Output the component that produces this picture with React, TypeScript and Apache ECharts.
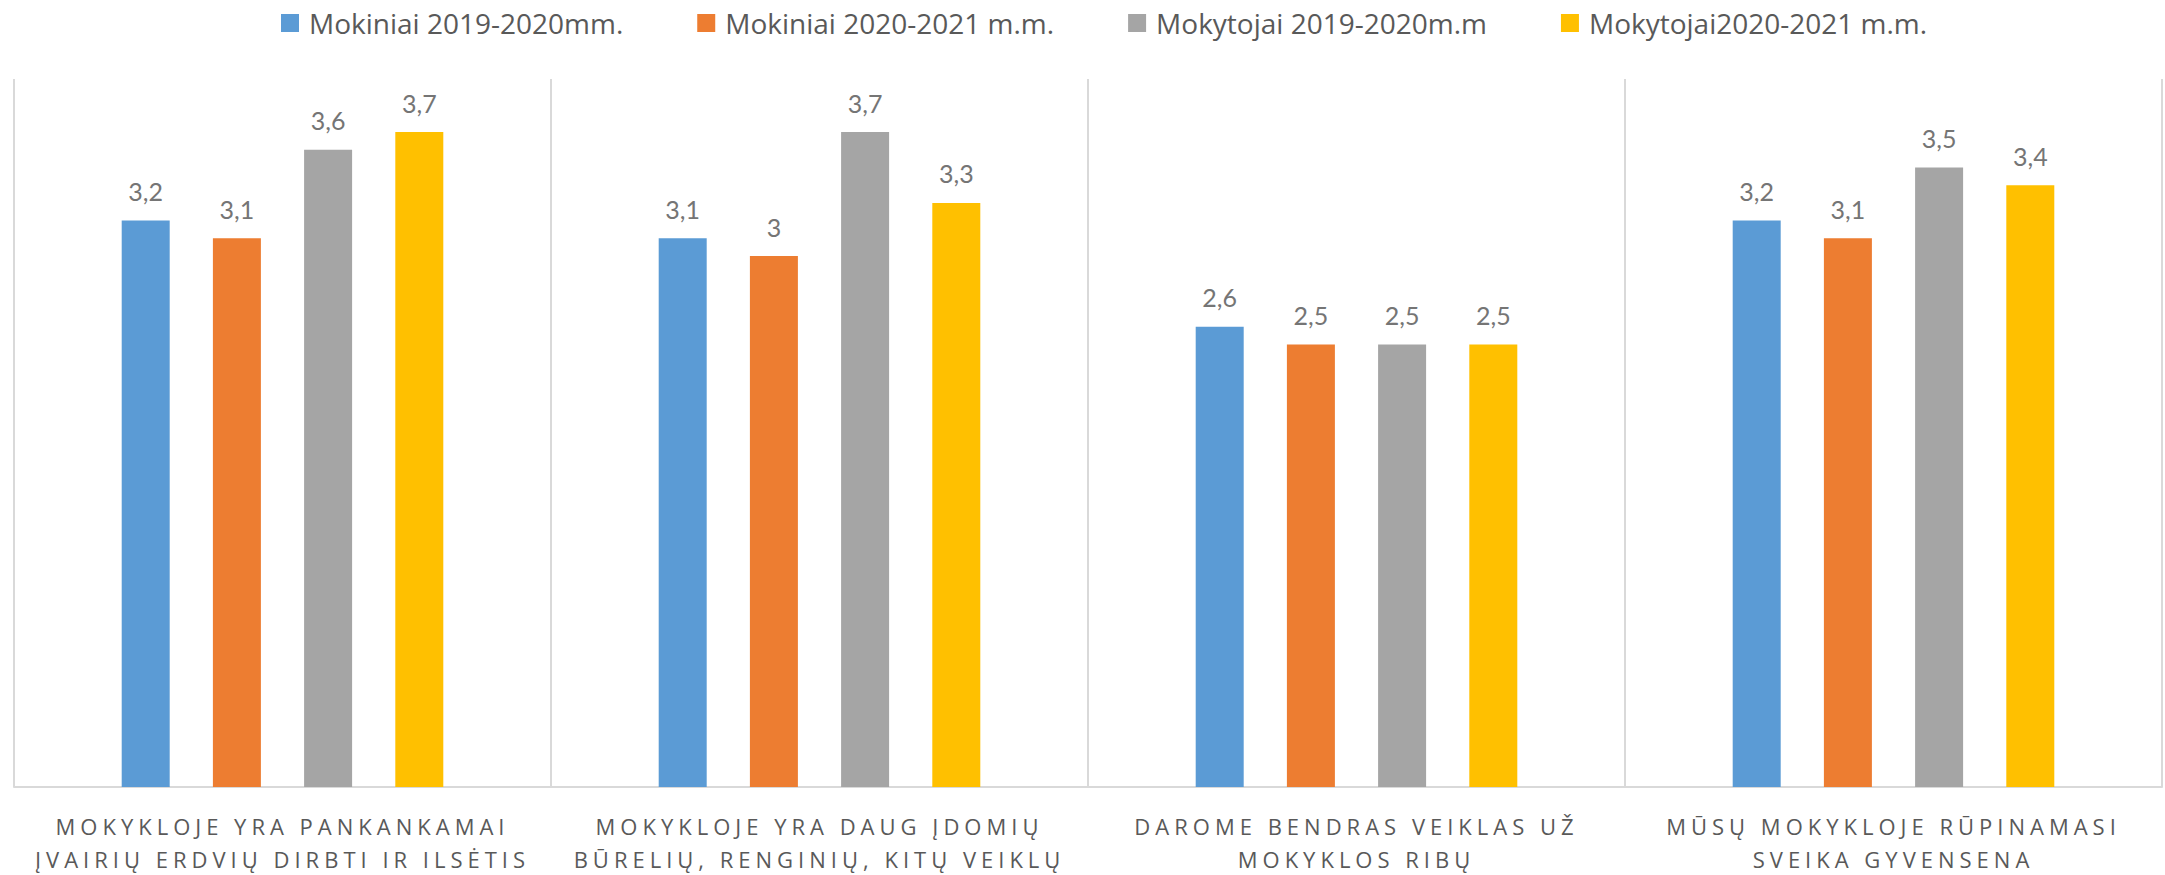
import React, { useEffect, useRef } from "react";
import * as echarts from "echarts";

const categories = [
  "MOKYKLOJE YRA PANKANKAMAI\nĮVAIRIŲ ERDVIŲ DIRBTI IR ILSĖTIS",
  "MOKYKLOJE YRA DAUG ĮDOMIŲ\nBŪRELIŲ, RENGINIŲ, KITŲ VEIKLŲ",
  "DAROME BENDRAS VEIKLAS UŽ\nMOKYKLOS RIBŲ",
  "MŪSŲ MOKYKLOJE RŪPINAMASI\nSVEIKA GYVENSENA",
];

const seriesNames = [
  "Mokiniai 2019-2020mm.",
  "Mokiniai 2020-2021 m.m.",
  "Mokytojai 2019-2020m.m",
  "Mokytojai2020-2021 m.m.",
];

const mokiniai1920 = [3.2, 3.1, 2.6, 3.2];
const mokiniai2021 = [3.1, 3.0, 2.5, 3.1];
const mokytojai1920 = [3.6, 3.7, 2.5, 3.5];
const mokytojai2021 = [3.7, 3.3, 2.5, 3.4];

const colors = ["#5b9bd5", "#ed7d31", "#a5a5a5", "#ffc000"];

export default function App() {
  const ref = useRef<HTMLDivElement>(null);
  useEffect(() => {
    document.body.style.margin = "0";
    if (!ref.current) return;
    const el = ref.current;
    const chart = echarts.init(el, undefined, { renderer: "svg" });
    const values = [mokiniai1920, mokiniai2021, mokytojai1920, mokytojai2021];
    const lineSet = new Set<string>();
    categories.forEach((c) => c.split("\n").forEach((l) => lineSet.add(l)));
    const spaceLabels = () => {
      el.querySelectorAll("text").forEach((t) => {
        const s = (t.textContent || "").trim();
        if (lineSet.has(s)) {
          (t as SVGTextElement).style.letterSpacing = "5px";
        }
      });
    };
    chart.on("finished", spaceLabels);
    chart.setOption({
      animation: false,
      color: colors,
      legend: {
        top: 4,
        left: 276,
        itemWidth: 18,
        itemHeight: 18,
        itemGap: 74,
        icon: "rect",
        textStyle: {
          fontFamily: "Open Sans",
          fontSize: 28,
          color: "#595959",
          padding: [0, 0, 0, 5],
        },
        data: seriesNames,
      },
      grid: { left: 14, right: 3, top: 79, bottom: 88, containLabel: false },
      xAxis: {
        type: "category",
        data: categories,
        axisLine: { lineStyle: { color: "#d9d9d9", width: 2 } },
        axisTick: { show: false },
        splitLine: { show: true, lineStyle: { color: "#d9d9d9", width: 2 } },
        axisLabel: {
          margin: 22,
          fontFamily: "Open Sans",
          fontSize: 22,
          lineHeight: 33,
          color: "#595959",
          interval: 0,
        },
      },
      yAxis: {
        type: "value",
        min: 0,
        max: 4,
        interval: 1,
        show: false,
        splitLine: { show: false },
      },
      series: seriesNames.map((name, i) => ({
        name,
        type: "bar",
        data: values[i],
        barWidth: 48,
        barGap: "90%",
        label: {
          show: true,
          position: "top",
          distance: 17,
          fontFamily: "Lato",
          fontSize: 25,
          color: "#757575",
          formatter: (p: any) => String(p.value).replace(".", ","),
        },
      })),
    });
    spaceLabels();
    const t1 = setTimeout(spaceLabels, 50);
    const t2 = setTimeout(spaceLabels, 300);
    return () => {
      clearTimeout(t1);
      clearTimeout(t2);
      chart.dispose();
    };
  }, []);
  return <div ref={ref} style={{ width: 2165, height: 875 }} />;
}
